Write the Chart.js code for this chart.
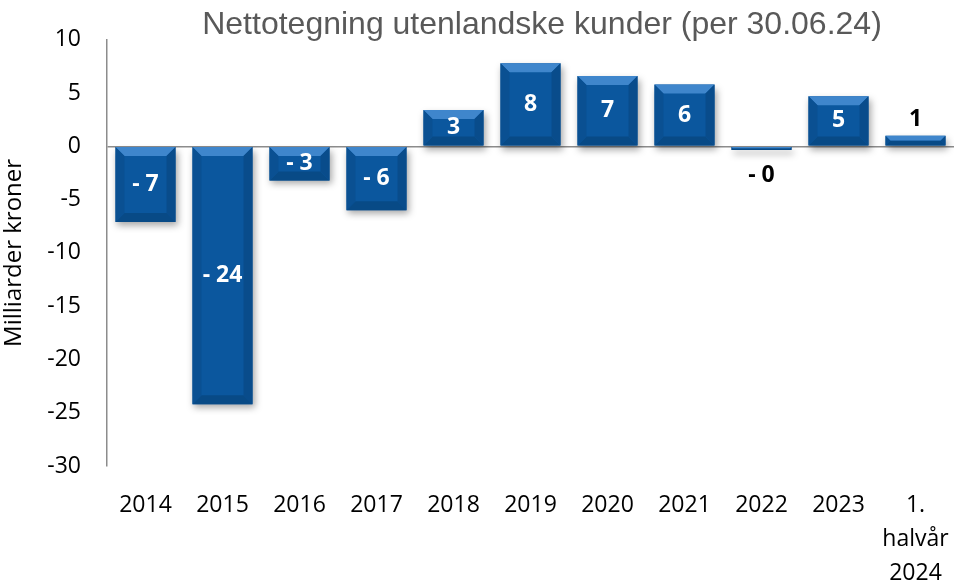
<!DOCTYPE html>
<html>
<head>
<meta charset="utf-8">
<script src="https://cdn.jsdelivr.net/npm/chart.js@4.4.0/dist/chart.umd.min.js"></script>
<style>
  body { margin: 0; background: #fff; }
  #wrap { width: 973px; height: 581px; }
</style>
</head>
<body>
<div id="wrap"><canvas id="myChart" width="973" height="581"></canvas></div>
<script>
// data
var years = ['2014', '2015', '2016', '2017', '2018', '2019', '2020', '2021', '2022', '2023', ['1.', 'halvår', '2024']];
var nettotegning = [-7.1, -24.2, -3.2, -6.0, 3.4, 7.8, 6.6, 5.8, -0.35, 4.7, 1.0];
var yTicks = [10, 5, 0, -5, -10, -15, -20, -25, -30];

var titleText = 'Nettotegning utenlandske kunder (per 30.06.24)';
var axisTitle = 'Milliarder kroner';

var barBlue = '#0b579e';

// label like excel: "- 7"
function fmt(v) {
    var r = Math.abs(Math.round(v));
    return (v < 0 ? '- ' : '') + r;
}

// title drawn by hand so it can sit off-centre like the original
var titlePlugin = {
    id: 'titleText',
    afterDraw: function (chart) {
        var ctx = chart.ctx;
        ctx.save();
        ctx.font = '32px "Liberation Sans", Arial, sans-serif';
        ctx.fillStyle = '#595959';
        ctx.textAlign = 'center';
        ctx.textBaseline = 'middle';
        ctx.fillText(titleText, 542, 25);
        ctx.restore();
    }
};

// soft shadow under the bars
var shadowPlugin = {
    id: 'barShadow',
    beforeDatasetDraw: function (chart) {
        var ctx = chart.ctx;
        ctx.save();
        ctx.shadowColor = 'rgba(0,0,0,0.35)';
        ctx.shadowBlur = 7;
        ctx.shadowOffsetX = 2;
        ctx.shadowOffsetY = 4;
    },
    afterDatasetDraw: function (chart) {
        chart.ctx.restore();
    }
};

// bevel edges + value labels
var bevelPlugin = {
    id: 'bevel',
    afterDatasetsDraw: function (chart) {
        var ctx = chart.ctx;
        var meta = chart.getDatasetMeta(0);
        meta.data.forEach(function (bar, i) {
            var p = bar.getProps(['x', 'y', 'base', 'width'], true);
            var l = p.x - p.width / 2, r = p.x + p.width / 2;
            var t = Math.min(p.y, p.base), b = Math.max(p.y, p.base);
            var h = b - t;
            var bv = Math.min(9, h / 2);

            ctx.save();
            // top
            ctx.fillStyle = '#3f86cc';
            ctx.beginPath();
            ctx.moveTo(l, t); ctx.lineTo(r, t); ctx.lineTo(r - bv, t + bv); ctx.lineTo(l + bv, t + bv); ctx.closePath();
            ctx.fill();
            // bottom
            ctx.fillStyle = '#084a86';
            ctx.beginPath();
            ctx.moveTo(l, b); ctx.lineTo(r, b); ctx.lineTo(r - bv, b - bv); ctx.lineTo(l + bv, b - bv); ctx.closePath();
            ctx.fill();
            // sides
            ctx.fillStyle = '#0a5092';
            ctx.beginPath();
            ctx.moveTo(l, t); ctx.lineTo(l + bv, t + bv); ctx.lineTo(l + bv, b - bv); ctx.lineTo(l, b); ctx.closePath();
            ctx.fill();
            ctx.fillStyle = '#094c8b';
            ctx.beginPath();
            ctx.moveTo(r, t); ctx.lineTo(r - bv, t + bv); ctx.lineTo(r - bv, b - bv); ctx.lineTo(r, b); ctx.closePath();
            ctx.fill();
            ctx.restore();

            // value label
            var v = nettotegning[i];
            ctx.save();
            ctx.font = 'bold 23px "Open Sans", sans-serif';
            ctx.textAlign = 'center';
            ctx.textBaseline = 'middle';
            if (h < 22) {
                ctx.fillStyle = '#000';
                if (v < 0) ctx.fillText(fmt(v), p.x, b + 25);
                else ctx.fillText(fmt(v), p.x, t - 16);
            } else {
                ctx.fillStyle = '#fff';
                ctx.fillText(fmt(v), p.x, (t + b) / 2);
            }
            ctx.restore();
        });
    }
};

var config = {
    type: 'bar',
    data: {
        labels: years,
        datasets: [{
            data: nettotegning,
            backgroundColor: barBlue,
            borderWidth: 0,
            barPercentage: 0.78,
            categoryPercentage: 1.0
        }]
    },
    options: {
        responsive: false,
        animation: false,
        events: [],
        layout: { padding: { top: 36, right: 19, left: 0, bottom: 0 } },
        plugins: {
            legend: { display: false },
            tooltip: { enabled: false }
        },
        scales: {
            x: {
                grid: { display: false, drawTicks: false },
                border: { display: false },
                ticks: {
                    color: '#000',
                    font: { family: 'Open Sans', size: 23, lineHeight: 1.48 },
                    padding: 22,
                    maxRotation: 0,
                    autoSkip: false
                },
                afterFit: function (s) { s.height = 115; }
            },
            y: {
                min: -30,
                max: 10,
                afterBuildTicks: function (s) {
                    s.ticks = yTicks.map(function (v) { return { value: v }; });
                },
                grid: {
                    drawTicks: false,
                    color: function (c) { return c.tick && c.tick.value === 0 ? '#8c8c8c' : 'rgba(0,0,0,0)'; },
                    lineWidth: 1.5
                },
                border: { display: true, color: '#8c8c8c', width: 1.5 },
                ticks: {
                    color: '#000',
                    font: { family: 'Open Sans', size: 23 },
                    padding: 26
                },
                title: {
                    display: true,
                    text: axisTitle,
                    color: '#000',
                    font: { family: 'Open Sans', size: 24 },
                    padding: { top: 0, bottom: 4 }
                },
                afterFit: function (s) { s.width = 107; }
            }
        }
    },
    plugins: [shadowPlugin, bevelPlugin, titlePlugin]
};

var myChart = new Chart(document.getElementById('myChart'), config);
</script>
</body>
</html>
